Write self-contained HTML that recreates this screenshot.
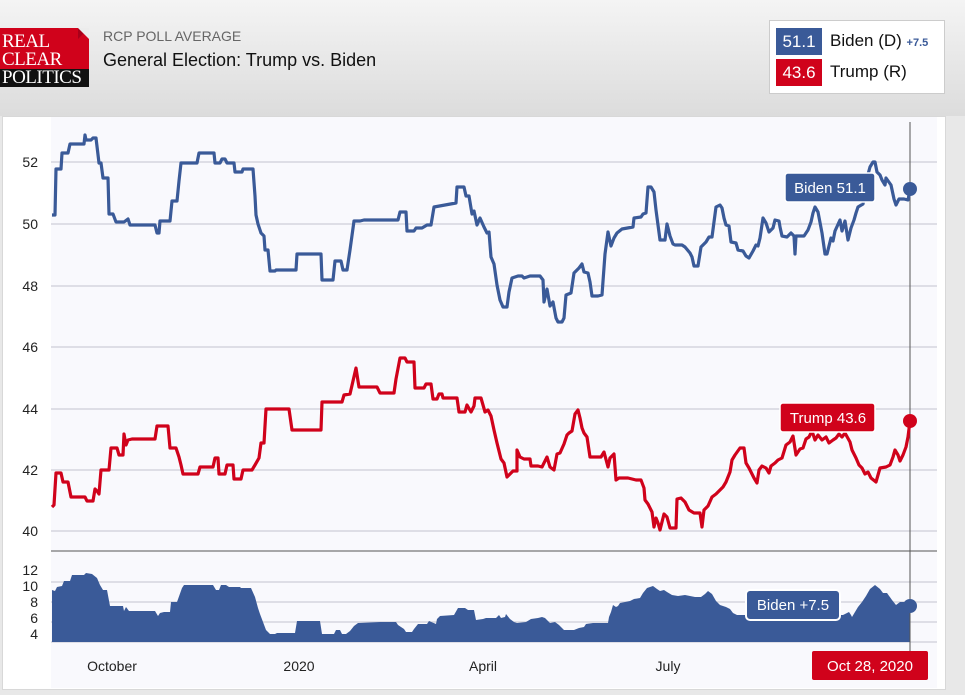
<!DOCTYPE html>
<html><head><meta charset="utf-8"><style>
body{margin:0;width:965px;height:695px;overflow:hidden;background:#e8e8e8;font-family:"Liberation Sans",sans-serif;position:relative}
.hdr{position:absolute;left:0;top:0;width:965px;height:116px;background:linear-gradient(#f4f4f4,#dcdcdc)}
</style></head><body>
<div class="hdr"></div>
<div style="position:absolute;left:0;top:28px;width:89px;height:41px;background:#d0021b"></div>
<div style="position:absolute;left:78px;top:28px;width:0;height:0;border-left:11px solid #a8001a;border-bottom:11px solid transparent;"></div>
<div style="position:absolute;left:78px;top:28px;width:0;height:0;border-top:11px solid #ececec;border-left:11px solid transparent;"></div>
<div style="position:absolute;left:0;top:69px;width:89px;height:18px;background:#111"></div>
<div style="position:absolute;left:2px;top:33px;color:#fff;font-family:'Liberation Serif',serif;font-size:19px;line-height:18px;letter-spacing:-0.5px">REAL<br>CLEAR<br>POLITICS</div>
<div style="position:absolute;left:103px;top:28px;color:#666;font-size:14px">RCP POLL AVERAGE</div>
<div style="position:absolute;left:103px;top:50px;color:#111;font-size:18px">General Election: Trump vs. Biden</div>
<div style="position:absolute;left:769px;top:20px;width:174px;height:72px;background:#fff;border:1px solid #ccc"></div>
<div style="position:absolute;left:776px;top:28px;width:46px;height:27px;background:#3a5a98;color:#fff;font-size:17px;line-height:27px;text-align:center">51.1</div>
<div style="position:absolute;left:776px;top:59px;width:46px;height:27px;background:#d0021b;color:#fff;font-size:17px;line-height:27px;text-align:center">43.6</div>
<div style="position:absolute;left:830px;top:31px;font-size:17px;color:#111">Biden (D) <span style="font-size:11px;color:#3a5a98;font-weight:bold">+7.5</span></div>
<div style="position:absolute;left:830px;top:62px;font-size:17px;color:#111">Trump (R)</div>
<div style="position:absolute;left:2px;top:116px;width:942px;height:572px;background:#fff;border:1px solid #d8d8d8"></div>
<svg style="position:absolute;left:0;top:0" width="965" height="695">
<rect x="51" y="117" width="886" height="571" fill="#f9f9fd"/>
<g stroke="#d6d6de" stroke-width="1.5">
<line x1="51" x2="937" y1="162" y2="162"/><line x1="51" x2="937" y1="224" y2="224"/><line x1="51" x2="937" y1="286" y2="286"/><line x1="51" x2="937" y1="347" y2="347"/><line x1="51" x2="937" y1="409" y2="409"/><line x1="51" x2="937" y1="470" y2="470"/><line x1="51" x2="937" y1="531" y2="531"/>
<line x1="51" x2="937" y1="582" y2="582"/><line x1="51" x2="937" y1="602" y2="602"/><line x1="51" x2="937" y1="622" y2="622"/><line x1="51" x2="937" y1="642" y2="642"/>
</g>
<line x1="51" x2="937" y1="551" y2="551" stroke="#555" stroke-width="1"/>
<g font-size="14" fill="#222" text-anchor="end">
<text x="38" y="167">52</text><text x="38" y="229">50</text><text x="38" y="291">48</text><text x="38" y="352">46</text><text x="38" y="414">44</text><text x="38" y="475">42</text><text x="38" y="536">40</text>
<text x="38" y="575">12</text><text x="38" y="591">10</text><text x="38" y="607">8</text><text x="38" y="623">6</text><text x="38" y="639">4</text>
</g>
<polygon fill="#3a5a98" points="52,642 52,590 55,591 57,587 62,586 64,581 70,581 72,575 84,575 86,573 92,574 97,578 100,585 103,590 107,590 110,606 123,606 124,611 126,607 129,611 155,611 158,616 160,613 164,612 170,612 171,602 177,602 182,588 184,585 213,585 216,590 219,590 221,585 226,585 229,587 240,587 241,588 251,588 255,597 258,608 260,614 266,630 270,634 275,634 277,633 295,633 297,621 320,621 322,634 334,634 336,630 340,630 342,634 346,634 350,631 354,626 358,623 380,622 396,622 398,625 404,629 406,632 412,632 414,629 418,624 427,624 429,621 436,624 437,619 440,616 454,615 458,608 465,608 468,610 474,610 476,620 483,619 486,618 496,618 499,615 501,618 505,617 506,614 510,619 514,622 517,623 526,622 531,619 538,618 542,617 545,618 550,623 555,622 559,625 564,630 574,630 579,628 584,627 586,624 593,623 600,623 608,623 609,617 611,612 613,605 616,607 618,606 620,603 630,601 634,599 640,598 643,593 647,588 653,586 657,589 660,591 664,590 667,592 672,595 678,596 685,595 695,597 701,597 705,594 708,591 712,594 716,601 720,605 726,607 730,609 733,613 737,615 843,615 847,613 849,612 851,615 852,617 858,607 862,602 866,596 870,589 875,585 880,589 883,593 887,593 892,600 896,605 900,602 905,602 910,606 910,642"/>
<line x1="910" x2="910" y1="122" y2="660" stroke="#555" stroke-width="1"/>
<polyline fill="none" stroke="#3a5a98" stroke-width="3.2" stroke-linejoin="round" points="52,215 55,215 56,169 61,169 62,153 68,153 70,144 84,144 85,135 86,140 91,140 93,138 96,138 99,163 101,163 103,178 108,178 109,214 113,214 116,222 124,222 128,219 130,225 155,225 157,233 159,233 160,221 170,221 172,201 177,201 179,181 181,163 197,163 199,153 214,153 215,163 220,163 222,159 225,159 227,163 234,163 235,172 242,172 243,169 253,169 255,196 256,215 258,224 261,233 264,236 265,250 268,250 270,271 275,271 276,270 296,270 297,254 321,254 322,280 333,280 335,261 341,261 343,270 347,270 350,250 354,221 360,221 364,220 398,220 400,212 406,212 407,231 414,231 416,228 422,228 427,225 431,225 434,207 456,203 457,187 464,187 466,196 469,196 472,214 474,211 477,225 480,218 484,227 487,233 489,232 491,257 494,264 497,285 500,300 503,307 507,307 509,292 512,278 518,276 522,276 524,278 530,276 535,276 540,276 543,280 544,302 547,289 550,306 553,302 556,318 558,322 562,322 564,318 566,295 571,293 574,273 579,268 582,264 584,272 588,273 590,282 592,296 598,296 602,295 605,254 608,232 611,246 614,238 617,233 622,229 633,227 634,218 641,217 643,214 646,213 648,187 651,187 654,192 656,210 658,225 660,240 665,240 667,224 670,236 673,244 675,245 682,245 685,247 690,253 692,257 694,266 698,266 701,247 704,244 706,242 709,237 712,237 716,207 720,205 722,208 724,218 726,225 729,226 731,242 736,243 738,250 743,251 746,256 749,258 753,251 756,245 758,246 760,238 763,218 766,223 769,232 773,228 775,220 779,221 780,227 782,236 787,237 791,233 794,236 795,254 796,236 804,236 808,230 811,222 813,213 815,207 818,212 822,233 825,254 827,254 831,238 833,241 835,231 840,220 842,231 845,221 848,240 851,228 854,220 856,213 858,207 863,204 867,178 870,167 873,162 875,162 877,172 880,175 882,180 885,185 886,178 891,185 894,199 896,205 899,199 904,199 908,200 910,190"/>
<polyline fill="none" stroke="#d0021b" stroke-width="3.2" stroke-linejoin="round" points="52,507 54,505 56,473 61,473 63,482 68,482 71,497 85,497 87,501 93,501 95,489 97,491 99,494 101,470 109,470 111,448 117,448 119,455 123,455 124,434 126,445 128,440 132,439 155,439 157,426 168,426 170,448 176,448 179,457 181,465 183,474 198,474 200,467 213,467 215,458 218,458 219,474 225,474 227,465 233,465 234,479 241,479 243,470 252,470 255,465 259,458 261,443 264,443 266,409 289,409 292,430 321,430 322,402 342,402 344,395 350,394 353,381 356,368 358,381 359,387 377,387 380,393 394,393 396,379 400,358 405,358 407,362 414,362 415,388 424,388 426,384 431,384 433,399 437,399 439,394 442,394 443,398 457,398 459,412 465,412 467,405 471,412 474,406 475,398 481,398 485,412 488,410 491,416 494,430 497,443 501,459 504,463 507,477 513,471 517,471 517,450 520,457 524,459 530,459 531,466 538,466 542,467 547,457 550,467 554,470 557,454 560,453 564,444 567,435 569,433 572,431 575,414 578,410 580,418 582,428 584,433 587,437 590,457 601,457 604,452 608,467 610,458 614,454 616,480 619,478 628,478 636,480 641,480 644,488 645,500 648,504 652,512 654,527 656,518 658,523 660,530 664,514 667,517 670,528 676,528 677,499 681,498 685,502 689,510 694,513 698,513 700,513 702,527 704,510 708,506 712,497 716,494 720,490 723,487 726,482 730,472 732,460 735,455 740,448 744,448 746,463 749,468 754,478 757,483 759,470 762,466 766,468 769,473 771,466 775,463 778,460 782,458 786,445 790,442 793,436 796,455 800,449 803,448 806,439 809,437 812,431 815,440 818,435 822,440 826,437 829,443 833,440 836,438 839,434 842,437 845,433 850,442 852,450 856,458 859,465 862,468 865,474 868,472 871,478 876,482 880,468 886,467 890,465 893,457 895,450 898,455 900,461 903,455 906,447 908,437 910,421"/>
<circle cx="910" cy="189" r="7" fill="#3a5a98"/>
<circle cx="910" cy="421" r="7" fill="#d0021b"/>
<circle cx="910" cy="606" r="7" fill="#3a5a98"/>
<rect x="785" y="173" width="90" height="29" rx="3" fill="#3a5a98" stroke="#fff" stroke-width="1.5"/>
<text x="830" y="193" text-anchor="middle" fill="#fff" font-size="15">Biden 51.1</text>
<rect x="780" y="403" width="95" height="29" rx="3" fill="#d0021b" stroke="#fff" stroke-width="1.5"/>
<text x="828" y="423" text-anchor="middle" fill="#fff" font-size="15">Trump 43.6</text>
<rect x="746" y="590" width="94" height="30" rx="4" fill="#3a5a98" stroke="#fff" stroke-width="2"/>
<text x="793" y="610" text-anchor="middle" fill="#fff" font-size="15">Biden +7.5</text>
<g font-size="14" fill="#222" text-anchor="middle">
<text x="112" y="671">October</text><text x="299" y="671">2020</text><text x="483" y="671">April</text><text x="668" y="671">July</text>
</g>
<rect x="812" y="651" width="116" height="29" rx="2" fill="#d0021b"/>
<text x="870" y="671" text-anchor="middle" fill="#fff" font-size="15">Oct 28, 2020</text>
</svg>
</body></html>
